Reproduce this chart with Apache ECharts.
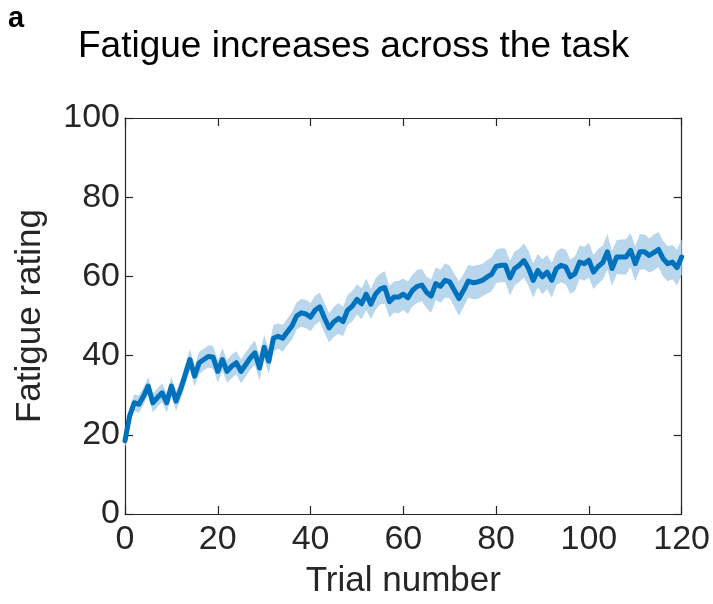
<!DOCTYPE html>
<html>
<head>
<meta charset="utf-8">
<script src="https://cdn.jsdelivr.net/npm/echarts@6/dist/echarts.min.js"></script>
<style>
  html, body { margin: 0; padding: 0; background: #fff; }
  #chart { width: 713px; height: 604px; }
</style>
</head>
<body>
<div id="chart"></div>
<script>
// Mean fatigue rating per trial (trials 0..120)
const fatigueMean = [
  18.5, 24.8, 28.1, 27.7, 29.8, 32.3, 28.1, 29.4, 30.6, 28.1, 32.3,
  28.5, 31.5, 35.2, 39.0, 34.8, 38.2, 39.0, 39.8, 39.6, 36.0,
  39.0, 36.0, 37.3, 38.2, 36.0, 37.7, 39.4, 40.7, 36.9, 42.1,
  38.6, 44.4, 44.9, 44.4, 46.0, 47.5, 50.0, 50.8, 50.5, 49.7,
  51.5, 52.3, 49.5, 47.0, 48.5, 49.4, 48.6, 51.5, 52.5, 54.2,
  53.1, 55.5, 53.0, 55.5, 56.8, 57.2, 53.6, 54.8, 54.8, 55.5,
  54.6, 56.5, 57.5, 57.8, 56.0, 55.0, 58.2, 57.5, 59.0, 58.6,
  56.5, 54.4, 56.5, 58.8, 58.4, 58.6, 59.0, 59.8, 60.5, 62.5,
  62.8, 62.8, 59.6, 62.0, 62.8, 64.0, 62.0, 59.0, 61.5, 59.9,
  61.1, 59.0, 62.0, 62.8, 62.4, 59.9, 60.7, 63.6, 63.2, 64.1,
  61.1, 62.5, 63.5, 66.2, 62.0, 64.9, 64.9, 64.9, 66.6, 63.2,
  66.2, 66.2, 65.3, 66.0, 66.8, 64.5, 63.2, 63.6, 62.2, 64.9
];

// Standard error of the mean per trial
const fatigueSem = [
  1.8, 2.0, 2.1, 2.2, 2.2, 2.3, 2.4, 2.3, 2.4, 2.5, 2.4,
  2.5, 2.4, 2.6, 2.7, 2.6, 2.8, 2.7, 2.8, 2.9, 2.8,
  2.9, 2.8, 3.0, 2.9, 3.0, 3.1, 3.0, 3.1, 3.2, 3.1,
  3.2, 3.3, 3.2, 3.4, 3.3, 3.5, 3.4, 3.5, 3.6, 3.5,
  3.7, 3.6, 3.8, 3.7, 3.8, 3.9, 3.7, 3.8, 3.9, 3.8,
  3.9, 4.0, 3.8, 4.0, 3.9, 4.1, 4.0, 3.9, 4.1, 4.0,
  4.1, 4.0, 4.2, 4.1, 4.0, 4.2, 4.1, 4.2, 4.3, 4.1,
  4.2, 4.4, 4.2, 4.1, 4.2, 4.3, 4.1, 4.2, 4.3, 4.2,
  4.3, 4.2, 4.4, 4.3, 4.2, 4.3, 4.4, 4.3, 4.2, 4.4,
  4.3, 4.4, 4.2, 4.3, 4.4, 4.3, 4.4, 4.2, 4.3, 4.4,
  4.3, 4.4, 4.3, 4.5, 4.4, 4.3, 4.4, 4.5, 4.3, 4.4,
  4.5, 4.4, 4.3, 4.5, 4.4, 4.5, 4.4, 4.3, 4.5, 4.4
];

const xTicks = [0, 20, 40, 60, 80, 100, 120];
const yTicks = [0, 20, 40, 60, 80, 100];

const trials = fatigueMean.map((_, i) => i);
const meanData = trials.map((t, i) => [t, fatigueMean[i]]);
// Rows of [trial, lower bound, upper bound] for the SEM band
const bandData = trials.map((t, i) => [t, fatigueMean[i] - fatigueSem[i], fatigueMean[i] + fatigueSem[i]]);

const FONT = '"Liberation Sans", Arial, Helvetica, sans-serif';
const INK = '#262626';
const LINE_BLUE = '#0072bd';
const BAND_BLUE = '#b8d6ec';

const axisCommon = {
  axisLine: { show: true, onZero: false, lineStyle: { color: INK, width: 1.2 } },
  axisTick: { show: true, inside: true, length: 8, lineStyle: { color: INK, width: 1.2 } },
  splitLine: { show: false }
};

// Draws the whole shaded band as one polygon: upper edge forward, lower edge back
function renderBand(params, api) {
  if (params.dataIndex !== 0) return null;
  const upper = bandData.map(r => api.coord([r[0], r[2]]));
  const lower = bandData.map(r => api.coord([r[0], r[1]])).reverse();
  return {
    type: 'polygon',
    shape: { points: upper.concat(lower) },
    style: { fill: BAND_BLUE, stroke: null },
    silent: true
  };
}

const chart = echarts.init(document.getElementById('chart'), null, { renderer: 'canvas' });

chart.setOption({
  animation: false,
  backgroundColor: '#ffffff',
  title: {
    text: 'Fatigue increases across the task',
    left: 73,
    top: 23,
    textStyle: { fontFamily: FONT, fontSize: 37, fontWeight: 'normal', color: '#000' }
  },
  graphic: [{
    type: 'text',
    left: 8,
    top: 4,
    style: { text: 'a', font: 'bold 29px ' + FONT, fill: '#000' }
  }],
  grid: { left: 125, right: 26, top: 118, bottom: 88, containLabel: false },
  xAxis: [
    Object.assign({
      type: 'value', position: 'bottom', min: xTicks[0], max: xTicks[xTicks.length - 1], interval: 20,
      name: 'Trial number', nameLocation: 'middle', nameGap: 50,
      nameTextStyle: { fontFamily: FONT, fontSize: 35, color: INK },
      axisLabel: { fontFamily: FONT, fontSize: 34, color: INK, margin: 9 }
    }, axisCommon),
    Object.assign({
      type: 'value', position: 'top', min: xTicks[0], max: xTicks[xTicks.length - 1], interval: 20,
      axisLabel: { show: false }
    }, axisCommon)
  ],
  yAxis: [
    Object.assign({
      type: 'value', position: 'left', min: yTicks[0], max: yTicks[yTicks.length - 1], interval: 20,
      name: 'Fatigue rating', nameLocation: 'middle', nameGap: 77,
      nameTextStyle: { fontFamily: FONT, fontSize: 35, color: INK },
      axisLabel: { fontFamily: FONT, fontSize: 34, color: INK, margin: 5 }
    }, axisCommon),
    Object.assign({
      type: 'value', position: 'right', min: yTicks[0], max: yTicks[yTicks.length - 1], interval: 20,
      axisLabel: { show: false }
    }, axisCommon)
  ],
  series: [
    {
      name: 'sem', type: 'custom', data: bandData,
      encode: { x: 0, y: [1, 2] },
      renderItem: renderBand, silent: true, z: 1
    },
    {
      name: 'mean', type: 'line', data: meanData,
      symbol: 'none', lineStyle: { color: LINE_BLUE, width: 5, join: 'round', cap: 'round' }, z: 3
    }
  ]
});
</script>
</body>
</html>
